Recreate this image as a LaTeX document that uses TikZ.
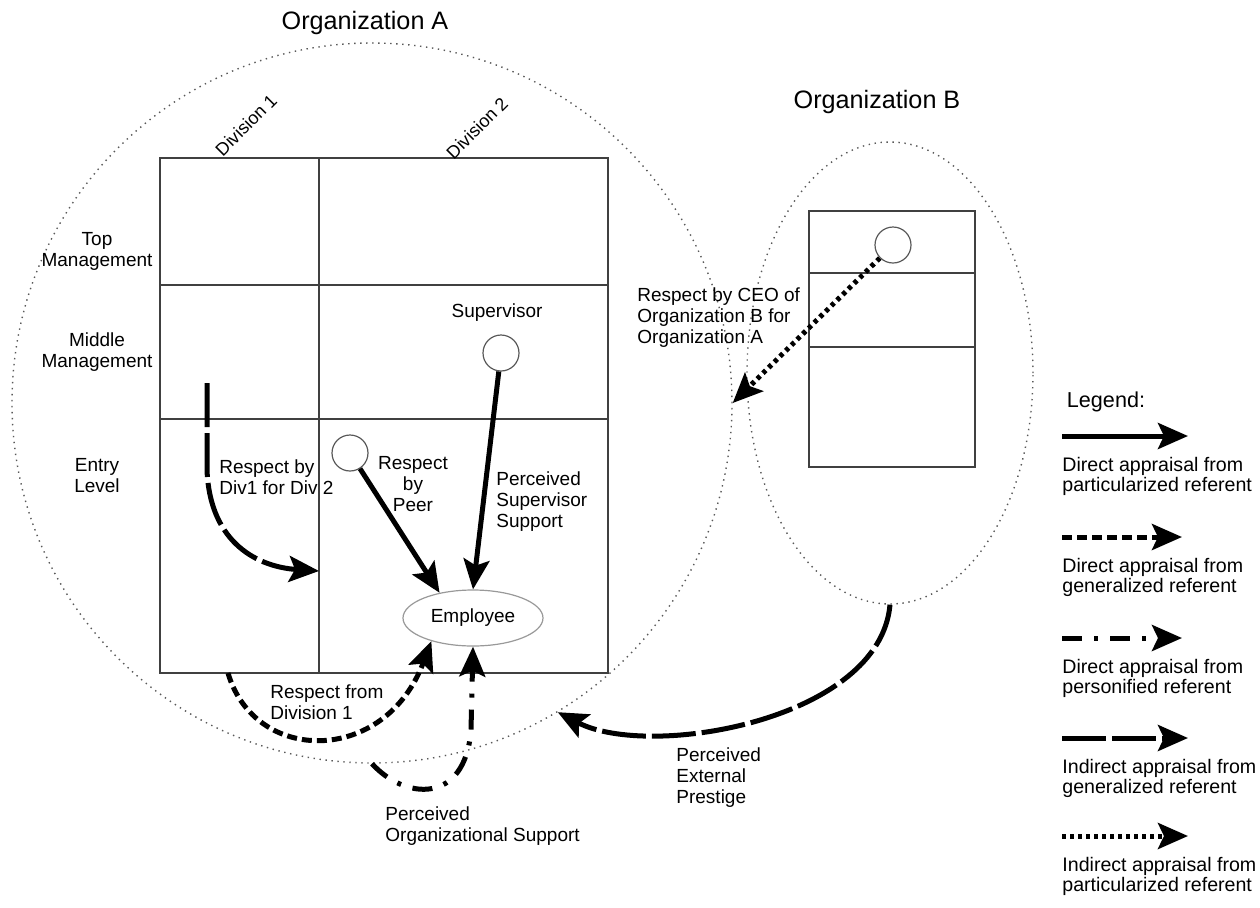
\documentclass[tikz,border=0pt]{standalone}
\usepackage{fontspec}
\setmainfont{Liberation Sans}
\usetikzlibrary{arrows.meta,shapes.geometric}
\tikzset{
  body/.style={font=\fontsize{9.5}{10.5}\selectfont, inner sep=0pt, align=left},
  bodyc/.style={font=\fontsize{9.5}{10.5}\selectfont, inner sep=0pt, align=center},
  legtxt/.style={font=\fontsize{9.8}{10}\selectfont, inner sep=0pt, align=left, anchor=west},
  title/.style={font=\fontsize{12.6}{14}\selectfont, inner sep=0pt},
  gridline/.style={draw=black!75, line width=0.75pt},
  orgline/.style={draw=black!65, line width=0.7pt, dash pattern=on 0.7pt off 2.3pt},
  person/.style={circle, draw=black!65, line width=0.6pt, minimum size=18pt, inner sep=0pt},
  arr/.style={line width=2.5pt, -{Stealth[length=15pt,width=13pt,inset=3pt]}},
  part/.style={arr},
  gen/.style={arr, dash pattern=on 5pt off 2.5pt},
  pers/.style={arr, dash pattern=on 10pt off 6pt on 2pt off 6pt},
  igen/.style={arr, dash pattern=on 22pt off 3pt},
  ipart/.style={arr, dash pattern=on 2pt off 2pt},
}
\begin{document}
\begin{tikzpicture}[x=0.5pt,y=-0.5pt]
\useasboundingbox (0,0) rectangle (1260,907);

% titles
\node[title] (tA) at (365,23) {Organization A};
\node[title] (tB) at (877,102) {Organization B};

% organizations
\node[orgline, circle, minimum size=360pt, inner sep=0pt] (orgA) at (372,403) {};
\node[orgline, ellipse, minimum width=143pt, minimum height=231pt, inner sep=0pt] (orgB) at (890,373) {};

% Organization A grid
\draw[gridline] (160,158) rectangle (608,673);
\draw[gridline] (319,158) -- (319,673);
\draw[gridline] (160,285) -- (608,285);
\draw[gridline] (160,419) -- (608,419);

% Organization B grid
\draw[gridline] (809,211) rectangle (975,467);
\draw[gridline] (809,273) -- (975,273);
\draw[gridline] (809,347) -- (975,347);

% column and row labels
\node[font=\fontsize{9}{10}\selectfont, rotate=45, inner sep=0pt] (div1) at (246,125) {Division 1};
\node[font=\fontsize{9}{10}\selectfont, rotate=45, inner sep=0pt] (div2) at (477,128) {Division 2};
\node[bodyc] (top) at (97,251) {Top\\Management};
\node[bodyc] (mid) at (97,352) {Middle\\Management};
\node[bodyc] (entry) at (97,476) {Entry\\Level};

% people
\node[person] (sup) at (501,353) {};
\node[bodyc] (supl) at (497,313) {Supervisor};
\node[person] (peer) at (350,453) {};
\node[person] (ceo) at (893,245) {};
\node[ellipse, draw=black!40, line width=0.6pt, minimum width=70pt, minimum height=28pt, inner sep=0pt,
      font=\fontsize{9.5}{10.5}\selectfont] (emp) at (473,618) {Employee};

% connectors
\draw[part] (sup) -- (emp.north);
\draw[part] (peer) -- (emp.143);

\coordinate (d1s) at (207,383);
\coordinate (d1e) at (319,571);
\draw[igen] (d1s) -- (207,470) .. controls (210,545) and (260,567) .. (d1e);

\coordinate (rfs) at (228,673);
\draw[gen] (rfs) .. controls (255,765) and (385,765) .. (emp.209);

\draw[pers] (orgA.south) .. controls (405,800) and (465,805) .. (471,730) -- (emp.south);

\draw[igen] (orgB.south) .. controls (880,720) and (650,760) .. (orgA.301.4);

\draw[ipart] (ceo) -- (orgA.east);

% connector labels
\node[bodyc] (peerl) at (413,484) {Respect\\by\\Peer};
\node[body, anchor=west] (pss) at (496,502) {Perceived\\Supervisor\\Support};
\node[body, anchor=west] (d1l) at (219,477) {Respect by\\Div1 for Div 2};
\node[body, anchor=west] (rfl) at (270,702) {Respect from\\Division 1};
\node[body, anchor=west] (posl) at (385,826) {Perceived\\Organizational Support};
\node[body, anchor=west] (pepl) at (676,778) {Perceived\\External\\Prestige};
\node[body, anchor=west] (ceol) at (637,318) {Respect by CEO of\\Organization B for\\Organization A};

% legend
\node[font=\fontsize{10.8}{12}\selectfont, inner sep=0pt] (leg) at (1106,402) {Legend:};

\coordinate (l1a) at (1062,436); \coordinate (l1b) at (1188,436);
\draw[part] (l1a) -- (l1b);
\node[legtxt] (l1t) at (1062,476) {Direct appraisal from\\particularized referent};

\coordinate (l2a) at (1062,537); \coordinate (l2b) at (1182,537);
\draw[gen] (l2a) -- (l2b);
\node[legtxt] (l2t) at (1062,577) {Direct appraisal from\\generalized referent};

\coordinate (l3a) at (1062,638); \coordinate (l3b) at (1182,638);
\draw[pers] (l3a) -- (l3b);
\node[legtxt] (l3t) at (1062,678) {Direct appraisal from\\personified referent};

\coordinate (l4a) at (1062,738); \coordinate (l4b) at (1188,738);
\draw[igen] (l4a) -- (l4b);
\node[legtxt] (l4t) at (1062,778) {Indirect appraisal from\\generalized referent};

\coordinate (l5a) at (1062,836); \coordinate (l5b) at (1188,836);
\draw[ipart] (l5a) -- (l5b);
\node[legtxt] (l5t) at (1062,876) {Indirect appraisal from\\particularized referent};
\end{tikzpicture}
\end{document}
